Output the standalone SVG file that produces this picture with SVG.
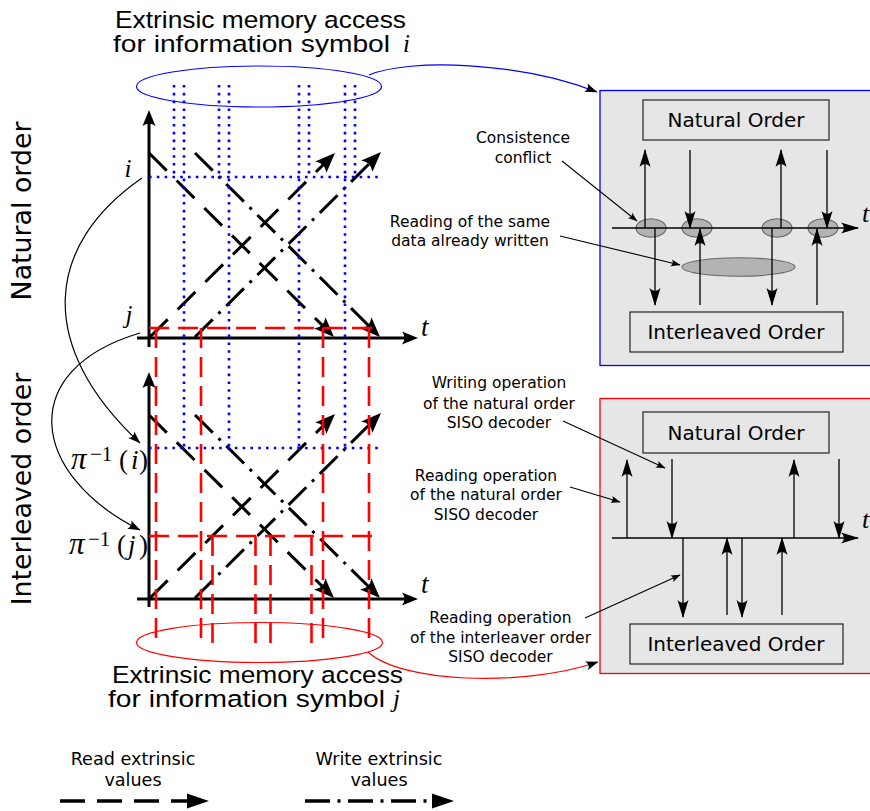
<svg xmlns="http://www.w3.org/2000/svg" width="870" height="811" viewBox="0 0 870 811">
<style>
.sans{font-family:"DejaVu Sans",sans-serif;fill:#000}
.title{font-family:"Liberation Sans",Arial,sans-serif;font-size:24.5px;fill:#000}
.math{font-family:"Liberation Serif","Times New Roman",serif;font-style:italic;fill:#000}
.ann{font-family:"DejaVu Sans",sans-serif;font-size:15.5px;text-anchor:middle;fill:#000}
.leg{font-family:"DejaVu Sans",sans-serif;font-size:17.6px;text-anchor:middle;fill:#000}
.box{font-family:"DejaVu Sans",sans-serif;font-size:20px;text-anchor:middle;fill:#000}
.axis{stroke:#000;stroke-width:3;fill:none}
.rd{stroke:#000;stroke-width:3;fill:none;stroke-dasharray:25 14;marker-end:url(#pah)}
.wr{stroke:#000;stroke-width:3;fill:none;stroke-dasharray:25 8 3 8;marker-end:url(#pah)}
.blue{stroke:#0000ff;stroke-width:2.6;fill:none;stroke-dasharray:2.6 5.2}
.red{stroke:#ff0000;stroke-width:2.6;fill:none;stroke-dasharray:20 9}
.pl{stroke:#000;stroke-width:1.3;fill:none}
.up{stroke:#000;stroke-width:1.3;fill:none;marker-end:url(#pnh)}
.ld{stroke:#000;stroke-width:1.1;fill:none;marker-end:url(#lah)}
.sm{fill:#b3b3b3;stroke:#666;stroke-width:1.1}
.panel{fill:#e6e6e6;stroke-width:1.3}
.obox{fill:#e6e6e6;stroke:#333;stroke-width:1.3}
</style>
<defs>
<marker id="pah" viewBox="-22 -10 34 20" markerWidth="34" markerHeight="20" refX="0" refY="0" orient="auto" markerUnits="userSpaceOnUse"><path d="M10,0 L-10,-8 Q-4,0 -10,8 Z" fill="#000"/></marker>
<marker id="axh" viewBox="-20 -10 30 20" markerWidth="30" markerHeight="20" refX="0" refY="0" orient="auto" markerUnits="userSpaceOnUse"><path d="M8,0 L-8,-6.5 Q-3,0 -8,6.5 Z" fill="#000"/></marker>
<marker id="pnh" viewBox="-22 -10 26 20" markerWidth="26" markerHeight="20" refX="0" refY="0" orient="auto" markerUnits="userSpaceOnUse"><path d="M1,0 L-17,-5.5 Q-11,0 -17,5.5 Z" fill="#000"/></marker>
<marker id="cah" viewBox="-16 -8 20 16" markerWidth="20" markerHeight="16" refX="0" refY="0" orient="auto" markerUnits="userSpaceOnUse"><path d="M0.5,0 L-12,-4.5 Q-8,0 -12,4.5 Z" fill="#000"/></marker>
<marker id="lah" viewBox="-12 -6 14 12" markerWidth="14" markerHeight="12" refX="0" refY="0" orient="auto" markerUnits="userSpaceOnUse"><path d="M0.5,0 L-9,-3.5 Q-6,0 -9,3.5 Z" fill="#000"/></marker>
<marker id="lgh" viewBox="-4 -10 28 20" markerWidth="28" markerHeight="20" refX="0" refY="0" orient="auto" markerUnits="userSpaceOnUse"><path d="M20,0 L-2,-7.5 L-2,7.5 Z" fill="#000"/></marker>
</defs>

<g id="side-labels">
<text class="sans" font-size="26.8" text-anchor="middle" transform="translate(31,211) rotate(-90)">Natural order</text>
<text class="sans" font-size="26.8" text-anchor="middle" transform="translate(31,489) rotate(-90)">Interleaved order</text>
</g>

<g id="top-title">
<text class="title" x="115" y="27.5" textLength="291" lengthAdjust="spacingAndGlyphs">Extrinsic memory access</text>
<text class="title" x="113" y="51.5" textLength="277" lengthAdjust="spacingAndGlyphs">for information symbol</text>
<text class="math" x="403" y="51.5" font-size="25">i</text>
</g>

<g id="bottom-title">
<text class="title" x="112" y="682.5" textLength="291" lengthAdjust="spacingAndGlyphs">Extrinsic memory access</text>
<text class="title" x="108" y="706.5" textLength="277" lengthAdjust="spacingAndGlyphs">for information symbol</text>
<text class="math" x="393" y="706.5" font-size="25">j</text>
</g>

<g id="natural-plot">
<path class="rd" d="M149,153 L326.9,329.9"/>
<path class="wr" d="M195,153 L372.9,329.9"/>
<path class="rd" d="M150,337 L327.9,160.1"/>
<path class="wr" d="M195,337 L373.9,159.1"/>
<path class="axis" d="M149,347 L149,118" marker-end="url(#axh)"/>
<path class="axis" d="M137,338 L410,338" marker-end="url(#axh)"/>
<text class="math" x="128" y="177" font-size="25" text-anchor="middle">i</text>
<text class="math" x="129" y="323" font-size="25" text-anchor="middle">j</text>
<text class="math" x="421" y="336" font-size="27">t</text>
</g>

<g id="interleaved-plot">
<path class="rd" d="M149,415 L326.9,590.9"/>
<path class="wr" d="M195,415 L372.9,590.9"/>
<path class="rd" d="M150,598 L327.9,421.1"/>
<path class="wr" d="M195,598 L373.9,420.1"/>
<path class="axis" d="M149,607 L149,380" marker-end="url(#axh)"/>
<path class="axis" d="M137,599 L410,599" marker-end="url(#axh)"/>
<text class="math" x="421" y="593" font-size="27">t</text>
<text class="math" font-size="27" y="469"><tspan x="71" font-size="31">π</tspan><tspan x="90" y="461" font-size="21" font-style="normal">−1</tspan><tspan x="119" y="469" font-style="normal">(</tspan><tspan x="131">i</tspan><tspan x="139" font-style="normal">)</tspan></text>
<text class="math" font-size="27" y="554"><tspan x="69" font-size="31">π</tspan><tspan x="88" y="546" font-size="21" font-style="normal">−1</tspan><tspan x="117" y="554" font-style="normal">(</tspan><tspan x="128">j</tspan><tspan x="139" font-style="normal">)</tspan></text>
</g>

<g id="access-lines">
<ellipse cx="259" cy="86.5" rx="122.5" ry="20.5" fill="none" stroke="#0000ff" stroke-width="1.2"/>
<ellipse cx="259.5" cy="642.5" rx="123" ry="20" fill="none" stroke="#ff0000" stroke-width="1.2"/>
<path class="blue" d="M149,177 L380,177 M149,448 L380,448"/>
<path class="blue" d="M174,85 V177 M219,85 V177 M309,85 V177 M355,85 V177"/>
<path class="blue" d="M184,85 V448 M229,85 V448 M299,85 V448 M345,85 V448"/>
<path class="red" d="M149,328 L380,328 M149,536 L380,536"/>
<path class="red" d="M156,328 V643 M201,328 V643 M323,328 V643 M369,328 V643"/>
<path class="red" d="M212.5,536 V643 M255.5,536 V643 M270.5,536 V643 M311.5,536 V643"/>
</g>

<g id="panel-conflict">
<rect class="panel" x="600" y="90.5" width="300" height="275" stroke="#0000ff"/>
<rect class="obox" x="643" y="100" width="186" height="40"/>
<text class="box" x="736" y="127">Natural Order</text>
<rect class="obox" x="630" y="312" width="213" height="40"/>
<text class="box" x="736" y="339">Interleaved Order</text>
<ellipse class="sm" cx="651" cy="228" rx="15" ry="9.3"/>
<ellipse class="sm" cx="697" cy="228" rx="15" ry="9.3"/>
<ellipse class="sm" cx="777" cy="228" rx="15" ry="9.3"/>
<ellipse class="sm" cx="823" cy="228" rx="15" ry="9.3"/>
<ellipse class="sm" cx="738.5" cy="267" rx="56.5" ry="9.3"/>
<path class="pl" d="M612,228 L858,228" marker-end="url(#pnh)"/>
<path class="up" d="M645,228 V150"/>
<path class="up" d="M690,150 V228"/>
<path class="up" d="M781,228 V150"/>
<path class="up" d="M827,150 V228"/>
<path class="up" d="M655,228 V305"/>
<path class="up" d="M700,305 V229"/>
<path class="up" d="M772,228 V305"/>
<path class="up" d="M817,305 V229"/>
<text class="math" x="862" y="222" font-size="26">t</text>
</g>

<g id="panel-interleaved">
<rect class="panel" x="600" y="398.5" width="300" height="275" stroke="#ff0000"/>
<rect class="obox" x="643" y="412" width="186" height="41"/>
<text class="box" x="736" y="439.5">Natural Order</text>
<rect class="obox" x="630" y="624" width="213" height="40"/>
<text class="box" x="736" y="651">Interleaved Order</text>
<path class="pl" d="M612,538 L858,538" marker-end="url(#pnh)"/>
<path class="up" d="M627,538 V460"/>
<path class="up" d="M672,459 V538"/>
<path class="up" d="M794,538 V460"/>
<path class="up" d="M839,459 V538"/>
<path class="up" d="M683,538 V617"/>
<path class="up" d="M727,615 V538"/>
<path class="up" d="M742,538 V617"/>
<path class="up" d="M782,615 V538"/>
<text class="math" x="862" y="528" font-size="26">t</text>
</g>

<g id="annotations">
<text class="ann" x="523" y="143">Consistence</text>
<text class="ann" x="523" y="162.5">conflict</text>
<text class="ann" x="470" y="227">Reading of the same</text>
<text class="ann" x="470" y="246">data already written</text>
<text class="ann" x="499" y="388">Writing operation</text>
<text class="ann" x="499" y="408.5">of the natural order</text>
<text class="ann" x="499" y="428">SISO decoder</text>
<text class="ann" x="486" y="480.5">Reading operation</text>
<text class="ann" x="486" y="500">of the natural order</text>
<text class="ann" x="486" y="519.5">SISO decoder</text>
<text class="ann" x="500.5" y="622.5">Reading operation</text>
<text class="ann" x="500.5" y="642.5">of the interleaver order</text>
<text class="ann" x="500.5" y="661.5">SISO decoder</text>
</g>

<g id="connectors">
<path d="M142,178 C45,245 35,345 140,443" stroke="#000" stroke-width="1.2" fill="none" marker-end="url(#cah)"/>
<path d="M140,333 C15,370 30,475 140,530" stroke="#000" stroke-width="1.2" fill="none" marker-end="url(#cah)"/>
<path d="M369,75 C410,58 520,62 597,92" stroke="#0000ff" stroke-width="1.2" fill="none" marker-end="url(#cah)"/>
<path d="M368,652 C400,682 520,688 598,662" stroke="#ff0000" stroke-width="1.2" fill="none" marker-end="url(#cah)"/>
<path class="ld" d="M562,161 L637,221"/>
<path class="ld" d="M560,236 L680,265"/>
<path class="ld" d="M563,421 L665,468"/>
<path class="ld" d="M570,487 L620,502"/>
<path class="ld" d="M585,618 L680,575"/>
</g>

<g id="legend">
<text class="leg" x="133" y="765">Read extrinsic</text>
<text class="leg" x="133" y="786">values</text>
<text class="leg" x="379" y="765">Write extrinsic</text>
<text class="leg" x="379" y="786">values</text>
<path d="M60,801 L189,801" stroke="#000" stroke-width="3.3" fill="none" stroke-dasharray="25 12" marker-end="url(#lgh)"/>
<path d="M305,801 L434,801" stroke="#000" stroke-width="3.3" fill="none" stroke-dasharray="25 7.5 3 7.5" marker-end="url(#lgh)"/>
</g>
</svg>
